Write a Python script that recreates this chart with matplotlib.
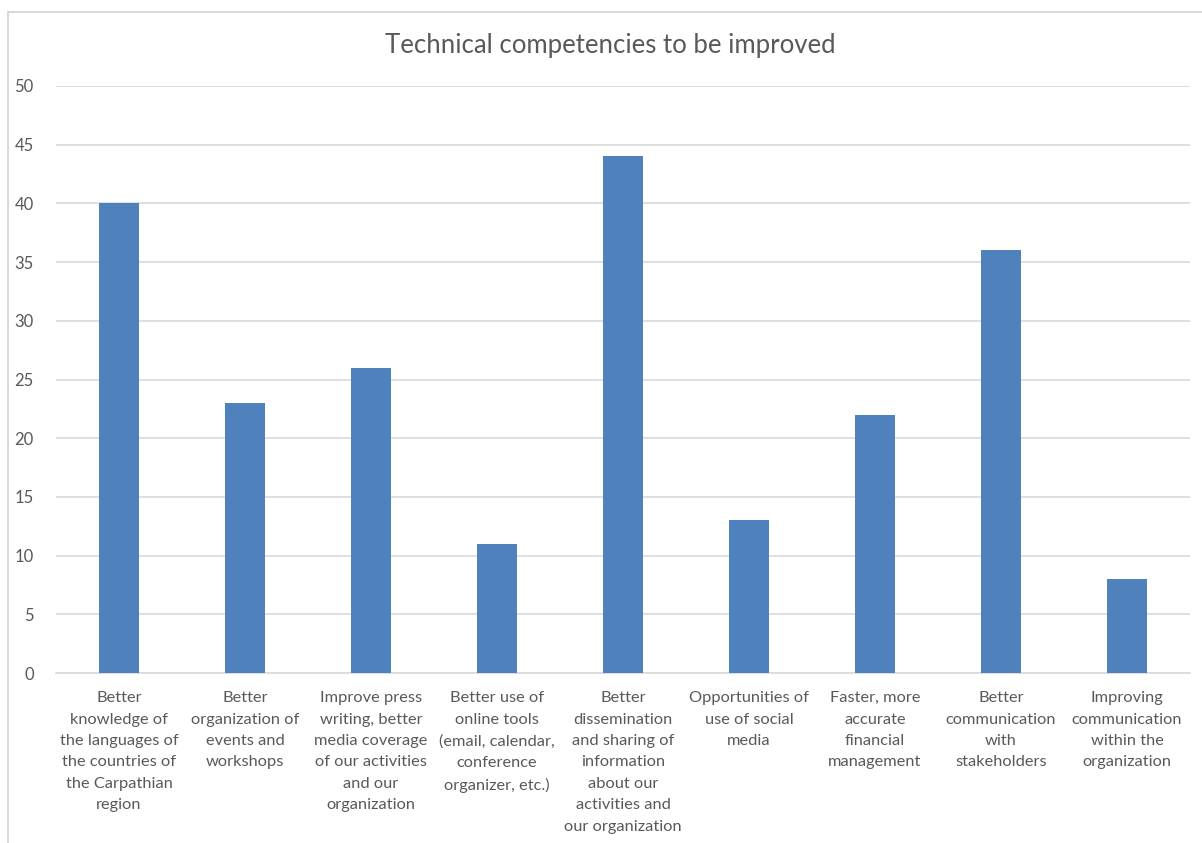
import numpy as np
import matplotlib.pyplot as plt
from matplotlib.patches import Rectangle

# ─────────────────────────────────────────────
# DATOS
# ─────────────────────────────────────────────
TITLE = "Technical competencies to be improved"

categories = [
    "Better\nknowledge of\nthe languages of\nthe countries of\nthe Carpathian\nregion",
    "Better\norganization of\nevents and\nworkshops",
    "Improve press\nwriting, better\nmedia coverage\nof our activities\nand our\norganization",
    "Better use of\nonline tools\n(email, calendar,\nconference\norganizer, etc.)",
    "Better\ndissemination\nand sharing of\ninformation\nabout our\nactivities and\nour organization",
    "Opportunities of\nuse of social\nmedia",
    "Faster, more\naccurate\nfinancial\nmanagement",
    "Better\ncommunication\nwith\nstakeholders",
    "Improving\ncommunication\nwithin the\norganization",
]
values = [40, 23, 26, 11, 44, 13, 22, 36, 8]
yticks = [0, 5, 10, 15, 20, 25, 30, 35, 40, 45, 50]

BAR   = "#4F81BD"
TXT   = "#595959"
GRID  = "#D9D9D9"
FONT  = ["Lato", "DejaVu Sans"]

plt.rcParams["font.family"] = FONT

W_PX, H_PX = 1202, 843
fig = plt.figure(figsize=(W_PX / 100, H_PX / 100), dpi=100)
fig.patch.set_facecolor("white")

# marco del gráfico (solo se ven borde izquierdo y superior)
fig.patches.append(Rectangle((8 / W_PX, -0.1), 1.2, 1 - 12 / H_PX + 0.1,
                             transform=fig.transFigure, fill=False,
                             edgecolor=GRID, linewidth=1.5))

ax = fig.add_axes([56 / W_PX, 1 - 673 / H_PX, (1190 - 56) / W_PX, (673 - 86) / H_PX])

x = np.arange(len(values))
ax.bar(x, values, width=0.317, color=BAR, zorder=3)

ax.set_xlim(-0.5, len(values) - 0.5)
ax.set_ylim(0, 50)
ax.set_yticks(yticks)
ax.set_yticklabels([str(t) for t in yticks], fontsize=12, color=TXT)
ax.set_xticks(x)
ax.set_xticklabels(categories, fontsize=11.8, color=TXT, linespacing=1.68)
ax.tick_params(axis="both", length=0)
ax.tick_params(axis="y", pad=16)
ax.tick_params(axis="x", pad=13)

ax.grid(axis="y", color=GRID, linewidth=1.2, zorder=0)
for s in ["top", "right", "left"]:
    ax.spines[s].set_visible(False)
ax.spines["bottom"].set_color(GRID)
ax.spines["bottom"].set_linewidth(1.2)

fig.text(610 / W_PX, 1 - 45 / H_PX, TITLE, ha="center", va="center",
         fontsize=18.5, color=TXT)

plt.savefig("out.png", dpi=100, facecolor=fig.get_facecolor())
